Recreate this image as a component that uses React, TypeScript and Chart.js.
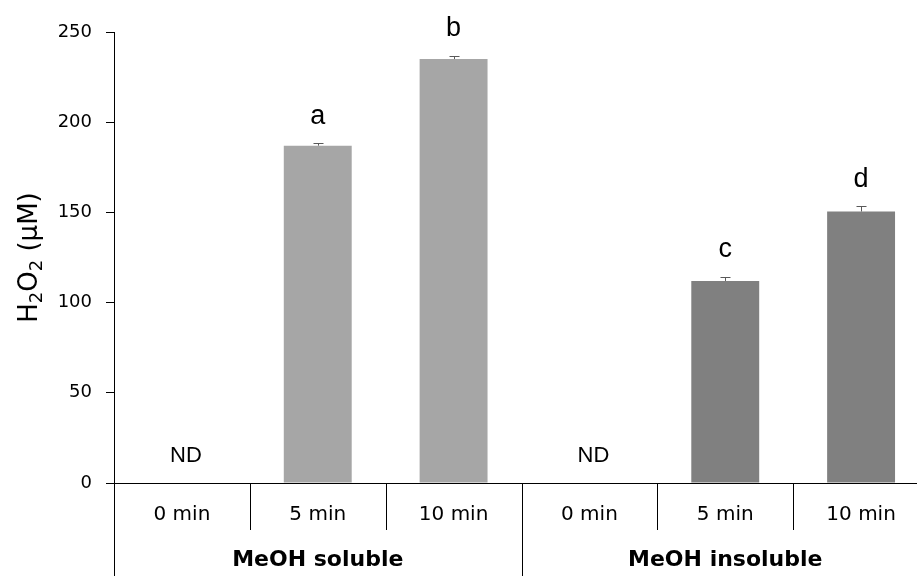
import React, { useEffect, useRef } from "react";
import { Chart, registerables } from "chart.js";

Chart.register(...registerables);

const categories = ["0 min", "5 min", "10 min", "0 min", "5 min", "10 min"];
const groups = ["MeOH soluble", "MeOH insoluble"];
const groupSize = 3;
const values = [0, 187, 235, 0, 112, 150.5];
const errors = [0, 1.3, 1.7, 0, 2.2, 3];
const letters = ["ND", "a", "b", "ND", "c", "d"];
const barColors = ["#a6a6a6", "#a6a6a6", "#a6a6a6", "#808080", "#808080", "#808080"];
// y-axis title pieces: [text, isSubscript]
const yTitleParts: [string, boolean][] = [
  ["H", false],
  ["2", true],
  ["O", false],
  ["2", true],
  [" (\u03bcM)", false],
];
const FONT = "'DejaVu Sans', 'Open Sans', sans-serif";
const LFONT = "'Liberation Sans', Arial, sans-serif";

const overlay = {
  id: "overlay",
  afterDatasetsDraw(chart: any) {
    const { ctx, scales, chartArea } = chart;
    const x = scales.x;
    const y = scales.y;
    const n = categories.length;
    const w = (chartArea.right - chartArea.left) / n;
    const base = chartArea.bottom;
    const H = chart.height;
    ctx.save();
    // error bars
    ctx.strokeStyle = "#595959";
    ctx.lineWidth = 1;
    for (let i = 0; i < n; i++) {
      if (!errors[i]) continue;
      const cx = Math.round(x.getPixelForValue(i)) + 0.5;
      const yt = y.getPixelForValue(values[i]);
      const ye = Math.round(y.getPixelForValue(values[i] + errors[i])) + 0.5;
      ctx.beginPath();
      ctx.moveTo(cx, yt);
      ctx.lineTo(cx, ye);
      ctx.moveTo(cx - 5, ye);
      ctx.lineTo(cx + 5, ye);
      ctx.stroke();
    }
    // letters
    ctx.fillStyle = "#000";
    ctx.textAlign = "center";
    ctx.textBaseline = "middle";
    for (let i = 0; i < n; i++) {
      const cx = x.getPixelForValue(i);
      const top = y.getPixelForValue(values[i] + errors[i]);
      if (letters[i] === "ND") {
        ctx.font = `22px ${LFONT}`;
        ctx.fillText(letters[i], cx + 4, top - 27);
      } else {
        ctx.font = `27px ${LFONT}`;
        ctx.fillText(letters[i], cx, top - 27);
      }
    }
    // bottom multi-level axis
    ctx.strokeStyle = "#000";
    ctx.lineWidth = 1;
    for (let i = 0; i <= n; i++) {
      const lx = Math.round(chartArea.left + i * w) + 0.5;
      const isGroup = i % groupSize === 0;
      ctx.beginPath();
      ctx.moveTo(lx, base);
      ctx.lineTo(lx, isGroup ? H : base + 47);
      ctx.stroke();
    }
    ctx.font = `20px ${FONT}`;
    for (let i = 0; i < n; i++) {
      ctx.fillText(categories[i], chartArea.left + (i + 0.5) * w, base + 32);
    }
    ctx.font = `bold 22px ${FONT}`;
    for (let g = 0; g < groups.length; g++) {
      ctx.fillText(groups[g], chartArea.left + (g * groupSize + groupSize / 2) * w, base + 77);
    }
    // y title with subscripts
    const big = `26px ${FONT}`;
    const small = `18px ${FONT}`;
    let total = 0;
    for (const [t, sub] of yTitleParts) {
      ctx.font = sub ? small : big;
      total += ctx.measureText(t).width;
    }
    ctx.translate(28, (chartArea.top + chartArea.bottom) / 2);
    ctx.rotate(-Math.PI / 2);
    ctx.textAlign = "left";
    ctx.textBaseline = "alphabetic";
    let px = -total / 2;
    for (const [t, sub] of yTitleParts) {
      ctx.font = sub ? small : big;
      ctx.fillText(t, px, sub ? 14 : 9);
      px += ctx.measureText(t).width;
    }
    ctx.restore();
  },
};

export default function App() {
  const ref = useRef<HTMLCanvasElement | null>(null);
  useEffect(() => {
    if (!ref.current) return;
    const chart = new Chart(ref.current, {
      type: "bar",
      data: {
        labels: categories,
        datasets: [
          {
            data: values,
            backgroundColor: barColors,
            barPercentage: 0.5,
            categoryPercentage: 1,
          },
        ],
      },
      options: {
        animation: false,
        responsive: true,
        maintainAspectRatio: false,
        layout: { padding: { top: 32, right: 1, left: 0, bottom: 0 } },
        plugins: { legend: { display: false }, tooltip: { enabled: false } },
        scales: {
          x: {
            grid: { display: false },
            border: { display: true, color: "#000", width: 1 },
            ticks: { display: false },
            afterFit: (s: any) => {
              s.height = 93;
            },
          },
          y: {
            min: 0,
            max: 250,
            ticks: { stepSize: 50, color: "#000", font: { size: 18, family: FONT }, padding: 14 },
            grid: { display: true, drawOnChartArea: false, drawTicks: true, tickLength: 8, color: "#000" },
            border: { display: true, color: "#000", width: 1 },
            afterFit: (s: any) => {
              s.width = 114;
            },
          },
        },
      },
      plugins: [overlay],
    });
    return () => chart.destroy();
  }, []);
  return (
    <div style={{ position: "fixed", left: 0, top: 0, width: 917, height: 576, overflow: "hidden", background: "#fff" }}>
      <div style={{ position: "relative", width: 930, height: 576 }}>
        <canvas ref={ref} />
      </div>
    </div>
  );
}
